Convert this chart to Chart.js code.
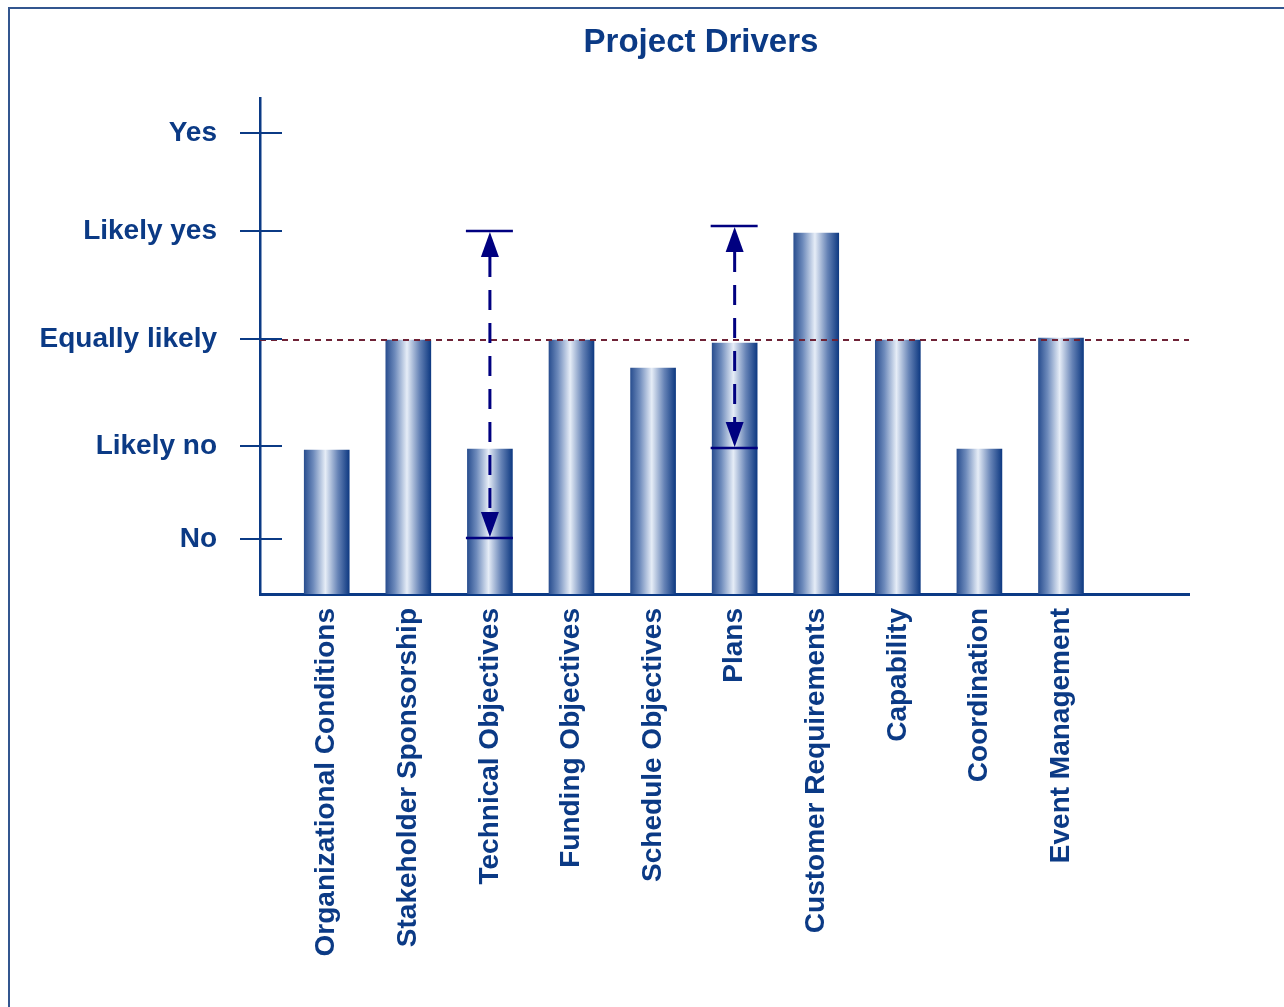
<!DOCTYPE html>
<html>
<head>
<meta charset="utf-8">
<title>Project Drivers</title>
<script src="https://cdn.jsdelivr.net/npm/chart.js@4.4.1/dist/chart.umd.min.js"></script>
<style>
    body { margin: 0; background: #fff; }
    #wrap { position: relative; width: 1284px; height: 1007px; overflow: hidden; }
    #frame { position: absolute; left: 8px; top: 7px; width: 1400px; height: 1100px;
             border-left: 2px solid #33568f; border-top: 2px solid #33568f; pointer-events: none; }
    canvas { position: absolute; left: 0; top: 0; }
</style>
</head>
<body>
<div id="wrap">
    <canvas id="drivers" width="1284" height="1007"></canvas>
    <div id="frame"></div>
</div>
<script>
const chartTitle = 'Project Drivers';

const categories = ['Organizational Conditions', 'Stakeholder Sponsorship', 'Technical Objectives',
    'Funding Objectives', 'Schedule Objectives', 'Plans', 'Customer Requirements',
    'Capability', 'Coordination', 'Event Management'];

// bar heights on the rating scale
const ratings = [1.44, 2.54, 1.45, 2.54, 2.26, 2.51, 3.61, 2.54, 1.45, 2.56];

// range arrows (only Technical Objectives and Plans)
const rangeHigh = [null, null, 3.63, null, null, 3.68, null, null, null, null];
const rangeLow = [null, null, 0.56, null, null, 1.46, null, null, null, null];

// y tick labels and where they sit
const levelLabels = ['No', 'Likely no', 'Equally likely', 'Likely yes', 'Yes'];
const levelValues = [0.55, 1.48, 2.55, 3.63, 4.61];

const equallyLikely = 2.54;

const navy = '#0b3a85';
const arrowBlue = '#000080';
const xMin = -0.818, xMax = 10.569;

function barGradient(context) {
    const chart = context.chart;
    if (!chart.chartArea) return '#5a78ad';
    const cx = chart.scales.x.getPixelForValue(context.dataIndex);
    const g = chart.ctx.createLinearGradient(cx - 22.5, 0, cx + 22.5, 0);
    g.addColorStop(0, '#2a4f90');
    g.addColorStop(0.2, '#6d8abb');
    g.addColorStop(0.47, '#e6edf7');
    g.addColorStop(0.75, '#6683b6');
    g.addColorStop(1, '#0f3a82');
    return g;
}

// tick marks crossing the y axis
const crossTicks = {
    id: 'crossTicks',
    afterDraw(chart) {
        const ctx = chart.ctx;
        const y = chart.scales.y;
        const left = chart.chartArea.left;
        ctx.save();
        ctx.strokeStyle = navy;
        ctx.lineWidth = 2;
        levelValues.forEach(v => {
            const py = y.getPixelForValue(v);
            ctx.beginPath();
            ctx.moveTo(left - 20, py);
            ctx.lineTo(left + 22, py);
            ctx.stroke();
        });
        ctx.restore();
    }
};

// dashed double arrows with end caps
const rangeArrows = {
    id: 'rangeArrows',
    afterDatasetsDraw(chart) {
        const ctx = chart.ctx;
        const xs = chart.scales.x, ys = chart.scales.y;
        ctx.save();
        ctx.strokeStyle = arrowBlue;
        ctx.fillStyle = arrowBlue;
        categories.forEach((c, i) => {
            if (rangeHigh[i] == null) return;
            const cx = xs.getPixelForValue(i);
            const top = ys.getPixelForValue(rangeHigh[i]);
            const bot = ys.getPixelForValue(rangeLow[i]);
            const head = 26, half = 9;
            ctx.lineWidth = 2.5;
            ctx.setLineDash([]);
            [top, bot].forEach(py => {
                ctx.beginPath();
                ctx.moveTo(cx - 24, py);
                ctx.lineTo(cx + 23, py);
                ctx.stroke();
            });
            ctx.beginPath();
            ctx.moveTo(cx, top + 1);
            ctx.lineTo(cx - half, top + head);
            ctx.lineTo(cx + half, top + head);
            ctx.closePath();
            ctx.fill();
            ctx.beginPath();
            ctx.moveTo(cx, bot - 1);
            ctx.lineTo(cx - half, bot - head);
            ctx.lineTo(cx + half, bot - head);
            ctx.closePath();
            ctx.fill();
            ctx.lineWidth = 3;
            ctx.setLineDash([20, 13]);
            ctx.beginPath();
            ctx.moveTo(cx, top + head);
            ctx.lineTo(cx, bot - head);
            ctx.stroke();
        });
        ctx.restore();
    }
};

const titlePlugin = {
    id: 'titleText',
    afterDraw(chart) {
        const ctx = chart.ctx;
        ctx.save();
        ctx.font = 'bold 33px "Liberation Sans", Arial, sans-serif';
        ctx.fillStyle = navy;
        ctx.textAlign = 'center';
        ctx.textBaseline = 'middle';
        ctx.fillText(chartTitle, 701, 43);
        ctx.restore();
    }
};

const drivers = document.getElementById('drivers');

new Chart(drivers, {
    data: {
        datasets: [{
                type: 'line',
                label: 'Equally likely',
                data: [{ x: xMin, y: equallyLikely }, { x: xMax, y: equallyLikely }],
                borderColor: '#6e2236',
                borderWidth: 2,
                borderDash: [6, 5],
                pointRadius: 0,
                order: 0
            },
            {
                type: 'bar',
                label: 'Rating',
                data: categories.map((c, i) => ({ x: i, y: ratings[i] })),
                backgroundColor: barGradient,
                borderWidth: 0,
                barThickness: 45,
                order: 1
            }
        ]
    },
    options: {
        responsive: false,
        animation: false,
        layout: {
            padding: { top: 98, left: 0, right: 95, bottom: 0 }
        },
        plugins: {
            legend: { display: false },
            title: { display: false },
            tooltip: { enabled: false }
        },
        scales: {
            x: {
                type: 'linear',
                offset: false,
                min: xMin,
                max: xMax,
                grid: { display: false, drawTicks: false, offset: false },
                border: { display: true, color: navy, width: 3 },
                afterBuildTicks: (scale) => {
                    scale.ticks = categories.map((c, i) => ({ value: i }));
                },
                afterFit: (scale) => { scale.height = 413; },
                ticks: {
                    autoSkip: false,
                    minRotation: 90,
                    maxRotation: 90,
                    padding: 14,
                    color: navy,
                    font: { family: '"Liberation Sans", Arial, sans-serif', size: 28, weight: 'bold' },
                    callback: (v) => categories[v]
                }
            },
            y: {
                type: 'linear',
                min: 0,
                max: 4.96,
                grid: { display: false, drawTicks: false },
                border: { display: true, color: navy, width: 2.5 },
                afterBuildTicks: (scale) => {
                    scale.ticks = levelValues.map(v => ({ value: v }));
                },
                afterFit: (scale) => { scale.width = 260; },
                ticks: {
                    padding: 43,
                    color: navy,
                    font: { family: '"Liberation Sans", Arial, sans-serif', size: 28, weight: 'bold' },
                    callback: (v) => levelLabels[levelValues.indexOf(v)]
                }
            }
        }
    },
    plugins: [crossTicks, rangeArrows, titlePlugin]
});
</script>
</body>
</html>
